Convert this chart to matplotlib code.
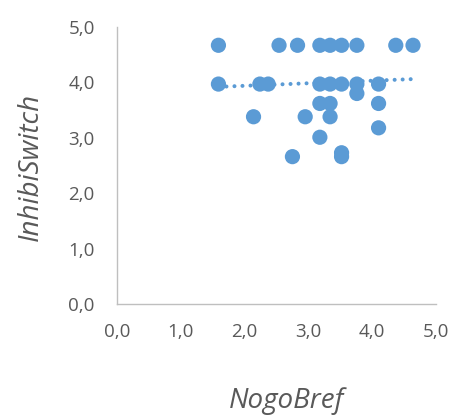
import numpy as np
import matplotlib
matplotlib.use("Agg")
import matplotlib.pyplot as plt
from matplotlib.ticker import FuncFormatter, MultipleLocator

nogo_bref = [1.59, 2.54, 2.83, 3.18, 3.34, 3.52, 3.76, 4.37, 4.64,
             1.59, 2.24, 2.37, 3.18, 3.34, 3.52, 3.76, 4.10,
             3.76,
             3.18, 3.34, 4.10,
             2.14, 2.95, 3.34,
             4.10,
             3.18,
             2.75,
             3.52, 3.52]
inhibi_switch = [4.67, 4.67, 4.67, 4.67, 4.67, 4.67, 4.67, 4.67, 4.67,
                 3.97, 3.97, 3.97, 3.97, 3.97, 3.97, 3.97, 3.97,
                 3.80,
                 3.62, 3.62, 3.62,
                 3.38, 3.38, 3.38,
                 3.18,
                 3.01,
                 2.66,
                 2.73, 2.66]

# linear trend line (start / end)
trend_x = [1.59, 4.64]
trend_y = [3.92, 4.06]

x_label = "NogoBref"
y_label = "InhibiSwitch"

color = "#5B9BD5"
text_color = "#595959"
font = "Open Sans"

fig = plt.figure(figsize=(4.54, 4.18), dpi=100)
ax = fig.add_axes([0.2577, 0.2727, 0.7026, 0.6627])

ax.scatter(nogo_bref, inhibi_switch, s=120, color=color, edgecolors="none", zorder=3)

ax.plot(trend_x, trend_y, linestyle=(0, (0.01, 1.98)), color=color, lw=2.9,
        dash_capstyle="round", zorder=2)

ax.set_xlim(0, 5)
ax.set_ylim(0, 5)
ax.xaxis.set_major_locator(MultipleLocator(1))
ax.yaxis.set_major_locator(MultipleLocator(1))
fmt = FuncFormatter(lambda v, p: f"{v:.1f}".replace(".", ","))
ax.xaxis.set_major_formatter(fmt)
ax.yaxis.set_major_formatter(fmt)

for s in ["top", "right"]:
    ax.spines[s].set_visible(False)
for s in ["left", "bottom"]:
    ax.spines[s].set_color("#BFBFBF")
    ax.spines[s].set_linewidth(1.0)

ax.tick_params(axis="both", length=0, labelsize=13.5, labelcolor=text_color)
ax.tick_params(axis="y", pad=16)
ax.tick_params(axis="x", pad=14)
for lab in ax.get_xticklabels() + ax.get_yticklabels():
    lab.set_family(font)

ax.set_xlabel(x_label, fontsize=20, style="italic", color=text_color, family=font)
ax.set_ylabel(y_label, fontsize=20, style="italic", color=text_color, family=font)
ax.xaxis.label.set_verticalalignment("baseline")
ax.yaxis.label.set_verticalalignment("baseline")
ax.xaxis.set_label_coords(0.530, -0.375)
ax.yaxis.set_label_coords(-0.248, 0.495)

fig.savefig("out.png", dpi=100)
